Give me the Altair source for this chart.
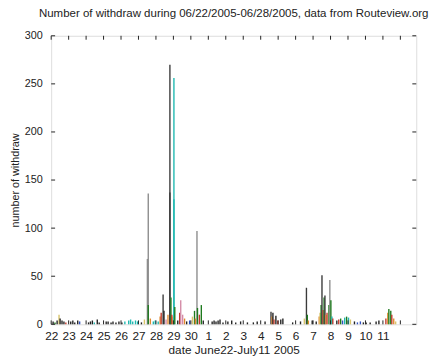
import altair as alt
import pandas as pd

# day offset from June 22 2005, count of withdraws, series id
days = [0.11, 0.22, 0.34, 0.45, 0.51, 0.62, 0.73, 0.84,
        1.12, 1.24, 1.35, 1.52, 1.63,
        2.14, 2.25, 2.36, 2.47, 2.64, 2.75,
        3.15, 3.26, 3.43, 3.54, 3.71, 3.88,
        4.05, 4.22, 4.44, 4.55, 4.67, 4.83, 4.95,
        5.17, 5.34, 5.51, 5.56, 5.56, 5.68, 5.85, 5.96,
        6.13, 6.24, 6.30, 6.41, 6.46, 6.58, 6.69, 6.80, 6.80, 6.86, 6.91, 6.97, 7.03, 7.03, 7.08,
        7.25, 7.36, 7.42, 7.53, 7.64, 7.76, 7.93,
        8.09, 8.21, 8.26, 8.35, 8.38, 8.49, 8.60, 8.71,
        9.22, 9.33, 9.44, 9.56, 9.67, 9.84,
        10.12, 10.34, 10.57, 10.85, 11.24, 11.58, 11.80, 12.25,
        12.59, 12.65, 12.70, 12.76, 12.87, 12.98, 13.15, 13.27, 13.83, 14.28,
        14.50, 14.62, 14.67, 14.73,
        14.95, 15.18, 15.35, 15.40, 15.46, 15.51, 15.57, 15.63, 15.68, 15.74, 15.80, 15.91, 15.96, 16.02, 16.08, 16.13,
        16.36, 16.47, 16.58, 16.69, 16.81, 16.92, 17.03, 17.14,
        17.37, 17.54, 17.71, 17.88, 18.04, 18.27, 18.61, 18.77,
        19.17, 19.28, 19.34, 19.45, 19.51, 19.62, 19.73]
counts = [3, 2, 4, 10, 6, 4, 3, 2,
          3, 4, 2, 4, 3,
          2, 3, 4, 2, 5, 2,
          3, 3, 2, 3, 2, 3,
          2, 3, 4, 5, 3, 4, 3,
          2, 5, 68, 136, 20, 6, 3, 4,
          3, 8, 12, 31, 14, 5, 10, 270, 137, 28, 10, 8, 256, 130, 18,
          4, 12, 25, 10, 6, 3, 4,
          8, 14, 6, 97, 17, 10, 20, 4,
          3, 4, 3, 4, 5, 2,
          3, 4, 2, 3, 2, 2, 3, 3,
          13, 8, 12, 5, 9, 4, 5, 6, 2, 3,
          6, 38, 10, 4,
          4, 3, 8, 12, 20, 51, 15, 28, 30, 10, 12, 20, 46, 25, 8, 6,
          4, 5, 6, 4, 7, 8, 7, 5,
          3, 2, 3, 2, 2, 2, 3, 4,
          6, 12, 16, 14, 10, 6, 3]
series = ["A", "E", "A", "H", "A", "A", "A", "F",
          "A", "A", "A", "A", "J",
          "A", "A", "A", "D", "A", "A",
          "A", "A", "A", "A", "A", "A",
          "A", "D", "D", "D", "D", "D", "D",
          "A", "H", "B", "B", "E", "G", "D", "D",
          "D", "G", "F", "C", "A", "I", "G", "C", "C", "E", "F", "G", "D", "D", "E",
          "A", "F", "I", "I", "G", "A", "J",
          "H", "E", "G", "B", "E", "F", "E", "A",
          "A", "A", "A", "A", "A", "A",
          "A", "A", "A", "A", "A", "A", "A", "A",
          "C", "G", "A", "F", "A", "F", "A", "A", "A", "A",
          "H", "C", "E", "G",
          "A", "A", "G", "H", "E", "C", "F", "E", "C", "G", "F", "E", "B", "E", "D", "F",
          "A", "F", "E", "J", "D", "E", "D", "H",
          "A", "J", "J", "A", "A", "A", "A", "A",
          "F", "G", "E", "E", "F", "G", "H"]

series_ids = ["A", "B", "C", "D", "E", "F", "G", "H", "I", "J"]
series_colors = ["#222222", "#8c8c8c", "#3a3a3a", "#1fb8b0", "#1e7a1e",
                 "#c0392b", "#e0892f", "#d8c46a", "#d48aa6", "#3050c0"]

tick_days = list(range(0, 21))
tick_labels = ["22", "23", "24", "25", "26", "27", "28", "29", "30",
               "1", "2", "3", "4", "5", "6", "7", "8", "9", "10", "11", ""]
y_ticks = [0, 50, 100, 150, 200, 250, 300]

W, H = 372, 294

df = pd.DataFrame({"day": days, "count": counts, "series": series})
xt = pd.DataFrame({"day": tick_days})
yt = pd.DataFrame({"count": y_ticks})

label_js = "[" + ",".join("'" + s + "'" for s in tick_labels) + "][datum.value]"

xscale = alt.Scale(domain=[0, 20.91], nice=False, zero=False)
yscale = alt.Scale(domain=[0, 300], nice=False)
common = dict(ticks=False, domain=False, grid=False,
              labelFont="Liberation Sans", labelColor="#222",
              titleFont="Liberation Sans", titleColor="#222",
              titleFontWeight="normal")
xaxis = alt.Axis(values=tick_days, labelExpr=label_js, labelPadding=6, labelFontSize=12,
                 title="date June22-July11 2005", titleFontSize=12, titlePadding=4,
                 labelFlush=False, **common)
yaxis = alt.Axis(values=y_ticks, labelPadding=9, labelFontSize=11, title="number of withdraw",
                 titleFontSize=11, titlePadding=4, **common)

bars = alt.Chart(df).mark_rule(strokeWidth=1.4).encode(
    x=alt.X("day:Q", scale=xscale, axis=xaxis),
    y=alt.Y("count:Q", scale=yscale, axis=yaxis),
    y2=alt.datum(0),
    color=alt.Color("series:N", scale=alt.Scale(domain=series_ids, range=series_colors), legend=None),
)

xb = alt.Chart(xt).mark_rule(color="#222", strokeWidth=1).encode(
    x=alt.X("day:Q", scale=xscale, axis=xaxis), y=alt.value(H), y2=alt.value(H - 4))
xtop = alt.Chart(xt).mark_rule(color="#222", strokeWidth=1).encode(
    x=alt.X("day:Q", scale=xscale, axis=xaxis), y=alt.value(0), y2=alt.value(4))
yl = alt.Chart(yt).mark_rule(color="#222", strokeWidth=1).encode(
    y=alt.Y("count:Q", scale=yscale, axis=yaxis), x=alt.value(0), x2=alt.value(4))
yr = alt.Chart(yt).mark_rule(color="#222", strokeWidth=1).encode(
    y=alt.Y("count:Q", scale=yscale, axis=yaxis), x=alt.value(W), x2=alt.value(W - 4))

chart = alt.layer(bars, xb, xtop, yl, yr).properties(
    width=W, height=H,
    title=alt.TitleParams("Number of withdraw during 06/22/2005-06/28/2005, data from Routeview.org",
                          fontSize=11.7, fontWeight="normal", font="Liberation Sans",
                          color="#222", offset=10, anchor="middle"),
    autosize=alt.AutoSizeParams(type="none"),
    padding={"left": 44, "top": 25, "right": 14, "bottom": 30},
).configure_view(stroke="#222", strokeWidth=1).configure(background="white")

chart.save("out.html", embed_options={"renderer": "svg", "actions": False})
